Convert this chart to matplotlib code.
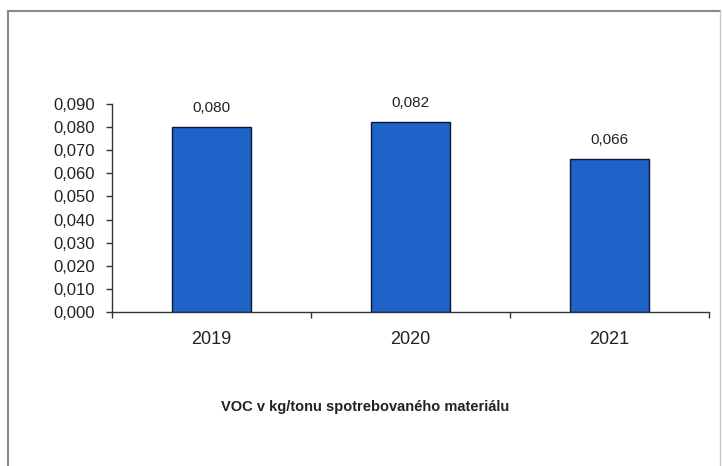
''' VOC v kg/tonu spotrebovaného materiálu - stĺpcový graf '''
import matplotlib
matplotlib.use('Agg')
import matplotlib.pyplot as plt
from matplotlib.lines import Line2D

roky = ['2019', '2020', '2021']
hodnoty = [0.080, 0.082, 0.066]
popis = 'VOC v kg/tonu spotrebovaného materiálu'


def ciarka(v, n=3):
    return f'{v:.{n}f}'.replace('.', ',')


def main():
    plt.rcParams['font.family'] = ['Liberation Sans', 'DejaVu Sans']
    fig = plt.figure(figsize=(7.22, 4.66), dpi=100)
    ax = fig.add_axes([112/722, 1-312/466, (709-112)/722, (312-104)/466])

    x = list(range(len(roky)))
    bary = ax.bar(x, hodnoty, width=0.40, color='#1f62c8', edgecolor='#0b1838', linewidth=1.0)
    for b, v in zip(bary, hodnoty):
        ax.annotate(ciarka(v), (b.get_x() + b.get_width()/2, v), xytext=(0, 9),
                    textcoords='offset points', ha='center', va='bottom',
                    fontsize=11, color='#222222')

    ax.set_xlim(-0.5, len(roky) - 0.5)
    ax.set_ylim(0, 0.09)
    ax.set_yticks([i/100 for i in range(10)])
    ax.set_yticklabels([ciarka(i/100) for i in range(10)], fontsize=12, color='#222222')
    ax.set_xticks(x)
    ax.set_xticklabels(roky, fontsize=13, color='#222222')
    ax.set_xticks([i - 0.5 for i in range(len(roky) + 1)], minor=True)
    ax.tick_params(axis='x', which='major', length=0, pad=14)
    ax.tick_params(axis='x', which='minor', length=4, width=1, color='#333333')
    ax.tick_params(axis='y', length=4, width=1, color='#333333', pad=8)

    for s in ['top', 'right']:
        ax.spines[s].set_visible(False)
    for s in ['left', 'bottom']:
        ax.spines[s].set_color('#333333')
        ax.spines[s].set_linewidth(1)

    fig.text(365/722, 1-407/466, popis, ha='center', va='center', fontsize=10.5,
             color='#222222', fontweight='bold')

    # ramik okolo grafu
    W, H = 722, 466
    farba = '#8a8a8a'
    fig.add_artist(Line2D([8/W, 8/W], [0, 1-11/H], color=farba, lw=1.5, transform=fig.transFigure))
    fig.add_artist(Line2D([8/W, 720/W], [1-11/H, 1-11/H], color=farba, lw=1.5, transform=fig.transFigure))
    fig.add_artist(Line2D([720/W, 720/W], [0, 1-11/H], color='#c8c8c8', lw=1, transform=fig.transFigure))

    fig.savefig('out.png', dpi=100)


if __name__ == '__main__':
    main()
